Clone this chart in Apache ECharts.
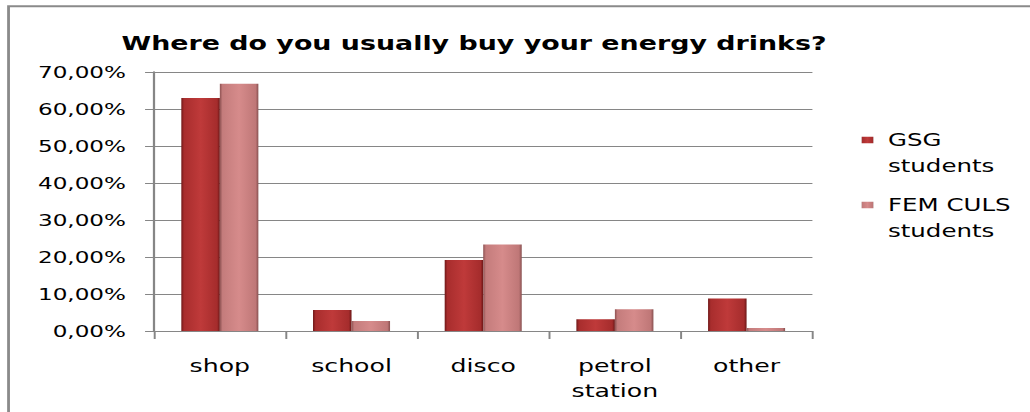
<!DOCTYPE html>
<html><head><meta charset="utf-8">
<script src="https://cdn.jsdelivr.net/npm/echarts@6/dist/echarts.min.js"></script>
<style>
html,body{margin:0;padding:0;background:#fff;overflow:hidden}
#wrap{width:1030px;height:412px;overflow:hidden;position:relative;background:#fff}
#chart{width:735.7px;height:412px;transform:scaleX(1.4);transform-origin:0 0}
</style></head><body>
<div id="wrap"><div id="chart"></div></div>
<script>
const titleText = 'Where do you usually buy your energy drinks?';
const categories = ['shop', 'school', 'disco', 'petrol\nstation', 'other'];
const seriesNames = ['GSG\nstudents', 'FEM CULS\nstudents'];
const gsgStudents = [63.0, 5.7, 19.2, 3.2, 8.8];
const femCulsStudents = [66.8, 2.7, 23.4, 5.9, 0.8];
const yMin = 0, yMax = 70, yStep = 10;

const FONT = 'DejaVu Sans';
const chart = echarts.init(document.getElementById('chart'), null, {renderer: 'svg'});
const G = echarts.graphic.LinearGradient;
const gsgFill = new G(0, 0, 1, 0, [
  {offset: 0, color: '#6f1818'}, {offset: 0.07, color: '#a82d2d'},
  {offset: 0.5, color: '#bf3a3a'}, {offset: 0.93, color: '#a52c2c'}, {offset: 1, color: '#6a1616'}]);
const femFill = new G(0, 0, 1, 0, [
  {offset: 0, color: '#8e5252'}, {offset: 0.07, color: '#c47c7c'},
  {offset: 0.5, color: '#d68b8b'}, {offset: 0.93, color: '#bf7777'}, {offset: 1, color: '#875050'}]);

const LH = 25.5;
// legend marker: small square beside the first text line (invisible anchors keep full item height)
const legendIcon = 'path://M0,0L0,0.01M0,9.45L8.3,9.45L8.3,16.05L0,16.05ZM0,51L0,50.99';

function legendFor(name, top, fill) {
  return {
    data: [name], orient: 'vertical', left: 615.5, top: top, padding: 0,
    itemWidth: 8.3, itemHeight: 2 * LH, icon: legendIcon,
    itemStyle: {color: fill, borderWidth: 0},
    textStyle: {fontFamily: FONT, fontSize: 17.5, color: '#000', lineHeight: LH, padding: [0, 0, 0, 5.5]}
  };
}

chart.setOption({
  animation: false,
  backgroundColor: '#fff',
  title: {
    text: titleText, left: 338.6, top: 33.5, textAlign: 'center', padding: 0,
    textStyle: {fontFamily: FONT, fontSize: 19.2, fontWeight: 'bold', color: '#000'}
  },
  legend: [legendFor(seriesNames[0], 127.25, gsgFill), legendFor(seriesNames[1], 192.25, femFill)],
  grid: {left: 110, right: 155.7, top: 72, bottom: 81, containLabel: false},
  xAxis: {
    type: 'category', data: categories,
    axisLine: {lineStyle: {color: '#868686', width: 1}},
    axisTick: {show: true, length: 8, lineStyle: {color: '#868686', width: 1.4}},
    axisLabel: {fontFamily: FONT, fontSize: 18, color: '#000', margin: 22, lineHeight: 25}
  },
  yAxis: {
    type: 'value', min: yMin, max: yMax, interval: yStep,
    axisLine: {show: true, lineStyle: {color: '#868686', width: 1.6}},
    axisTick: {show: true, length: 6.4, lineStyle: {color: '#868686'}},
    splitLine: {lineStyle: {color: '#868686', width: 1}},
    axisLabel: {fontFamily: FONT, fontSize: 16.5, color: '#000', margin: 20,
      formatter: v => v.toFixed(2).replace('.', ',') + '%'}
  },
  series: [
    {name: seriesNames[0], type: 'bar', data: gsgStudents, barGap: '0%', barCategoryGap: '41.5%',
      itemStyle: {color: gsgFill}},
    {name: seriesNames[1], type: 'bar', data: femCulsStudents, barGap: '0%', barCategoryGap: '41.5%',
      itemStyle: {color: femFill}}
  ],
  graphic: [{
    type: 'rect', silent: true, z: 100,
    shape: {x: 6.1, y: 6.2, width: 1000, height: 1000},
    style: {fill: 'none', stroke: '#8a8a8a', lineWidth: 2}
  }]
});
</script></body></html>
